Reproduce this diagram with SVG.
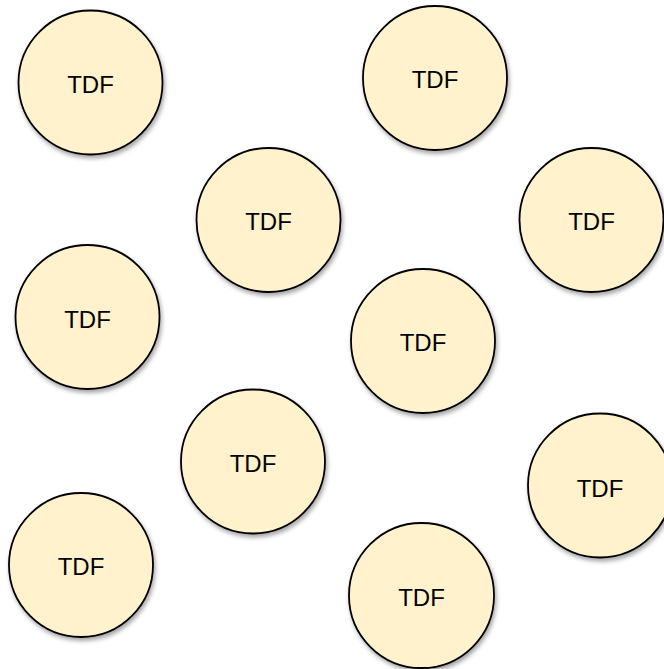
<svg xmlns="http://www.w3.org/2000/svg" width="664" height="669" viewBox="0 0 664 669">
<defs>
<filter id="sh" x="-20%" y="-20%" width="140%" height="140%">
<feDropShadow dx="1.5" dy="3" stdDeviation="2" flood-color="#000" flood-opacity="0.35"/>
</filter>
<style>
.n circle{fill:#FFF2CC;stroke:#000;stroke-width:1.8;filter:url(#sh)}
.n text{font-family:"Liberation Sans",Arial,sans-serif;font-size:24px;fill:#000;text-anchor:middle}
</style>
</defs>
<rect width="664" height="669" fill="#fff"/>
<g id="n1" class="n"><circle cx="90.5" cy="82.5" r="72"/><text x="90.5" y="93">TDF</text></g>
<g id="n2" class="n"><circle cx="435" cy="78" r="72"/><text x="435" y="88">TDF</text></g>
<g id="n3" class="n"><circle cx="268.5" cy="220" r="72"/><text x="268.5" y="230">TDF</text></g>
<g id="n4" class="n"><circle cx="591.5" cy="220" r="72"/><text x="591.5" y="230">TDF</text></g>
<g id="n5" class="n"><circle cx="87.5" cy="317" r="72"/><text x="87.5" y="328">TDF</text></g>
<g id="n6" class="n"><circle cx="423" cy="341" r="72"/><text x="423" y="351">TDF</text></g>
<g id="n7" class="n"><circle cx="253" cy="461.5" r="72"/><text x="253" y="472">TDF</text></g>
<g id="n8" class="n"><circle cx="600" cy="485.5" r="72"/><text x="600" y="497">TDF</text></g>
<g id="n9" class="n"><circle cx="81" cy="565" r="72"/><text x="81" y="575">TDF</text></g>
<g id="n10" class="n"><circle cx="421.5" cy="595.5" r="72.5"/><text x="421.5" y="606">TDF</text></g>
<g id="connectors"/>
</svg>
